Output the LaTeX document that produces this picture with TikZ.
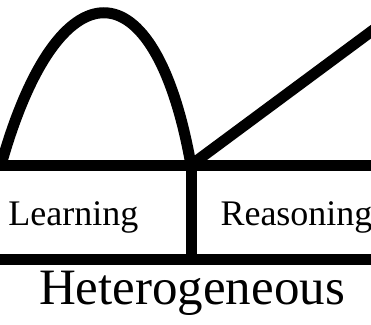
\documentclass[tikz,border=0pt]{standalone}
\usepackage{fontspec}
\setmainfont{Liberation Serif}

\begin{document}
\begin{tikzpicture}[x=1pt, y=-1pt, line width=11pt]
\useasboundingbox (0,0) rectangle (371,324);
\clip (0,0) rectangle (371,324);

% the two curves on top
\draw (1,165) .. controls (58,-38) and (155,-38) .. (191,165);
\draw (191,165) -- (380,25);

% the frame
\draw (-10,165) -- (381,165);
\draw (-10,259) -- (381,259);
\draw (191,165) -- (191,259);

% labels
\node[anchor=base west, inner sep=0, font=\fontsize{36}{36}\selectfont] (learn) at (3,225) {Learning};
\node[anchor=base west, inner sep=0, font=\fontsize{36}{36}\selectfont] (reason) at (215,225) {Reasoning};
\node[anchor=base, inner sep=0, font=\fontsize{51}{51}\selectfont] (hetero) at (192,304) {Heterogeneous};
\end{tikzpicture}
\end{document}
